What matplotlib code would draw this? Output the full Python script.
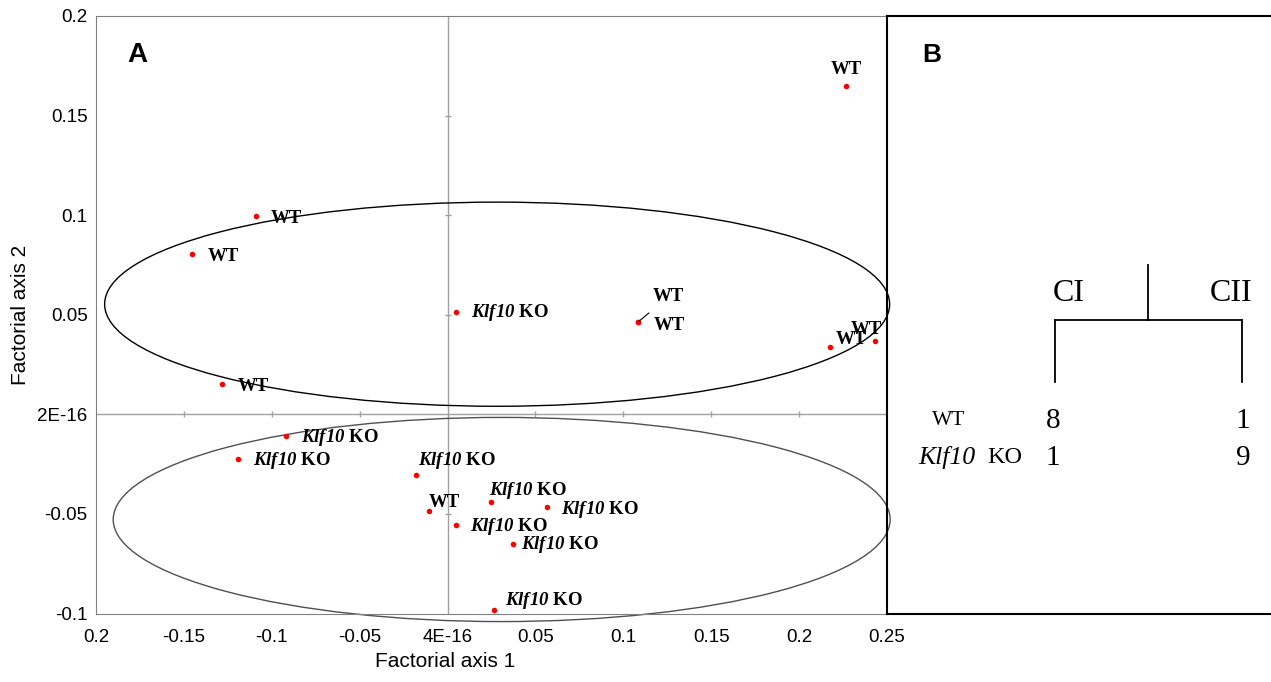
import matplotlib
matplotlib.use("Agg")
import matplotlib.pyplot as plt
from matplotlib.patches import Ellipse

plt.rcParams['mathtext.fontset'] = 'custom'
plt.rcParams['mathtext.bf'] = 'Liberation Serif:italic:bold'
plt.rcParams['mathtext.rm'] = 'Liberation Serif'

# factorial map (panel A)
group = ['WT', 'WT', 'WT', 'KO', 'WT', 'WT', 'WT', 'WT', 'WT',
         'KO', 'KO', 'KO', 'WT', 'KO', 'KO', 'KO', 'KO', 'KO']
axis1 = [0.2267, -0.1088, -0.1452, 0.0046, 0.1082, 0.1082, 0.2176, 0.2432, -0.1282,
         -0.0917, -0.1190, -0.0177, -0.0103, 0.0245, 0.0564, 0.0046, 0.0370, 0.0262]
axis2 = [0.1648, 0.0995, 0.0804, 0.0513, 0.0462, 0.0462, 0.0337, 0.0367, 0.0151,
         -0.0111, -0.0226, -0.0307, -0.0487, -0.0442, -0.0467, -0.0557, -0.0653, -0.0980]
# label offsets in pixels (dx, dy) and alignment
label_off = [(0, 17, 'center'), (14, -2, 'left'), (15, -2, 'left'), (15, 0, 'left'),
             (31, 26, 'center'), (16, -3, 'left'), (6, 8, 'left'), (-9, 12, 'center'),
             (16, -2, 'left'), (15, -1, 'left'), (15, -1, 'left'), (2, 15, 'left'),
             (-1, 9, 'left'), (-2, 12, 'left'), (14, -2, 'left'), (14, -1, 'left'),
             (8, 0, 'left'), (11, 9, 'left')]

ell_centers = [(0.0282, 0.0553), (0.0308, -0.0528)]
ell_sizes = [(0.4466, 0.1025), (0.4420, 0.1025)]

xticks = [-0.2, -0.15, -0.1, -0.05, 0.0, 0.05, 0.1, 0.15, 0.2, 0.25]
xticklabels = ['0.2', '-0.15', '-0.1', '-0.05', '4E-16', '0.05', '0.1', '0.15', '0.2', '0.25']
yticks = [-0.1, -0.05, 0.0, 0.05, 0.1, 0.15, 0.2]
yticklabels = ['-0.1', '-0.05', '2E-16', '0.05', '0.1', '0.15', '0.2']

# cross table (panel B)
clusters = ['CI', 'CII']
rows = ['WT', 'Klf10 KO']
counts = [[8, 1], [1, 9]]

fig = plt.figure(figsize=(12.71, 6.82), dpi=100)
ax = fig.add_axes([96/1271, 68.5/682, 791/1271, 597.5/682])
ax.set_xlim(-0.2, 0.25)
ax.set_ylim(-0.1, 0.2)

for s in ['left', 'top', 'bottom']:
    ax.spines[s].set_color('#808080')
ax.spines['right'].set_visible(False)

ax.axhline(0, color='#a0a0a0', lw=1, zorder=1)
ax.axvline(0, color='#a0a0a0', lw=1, zorder=1)
ax.plot([t for t in xticks[1:-1] if t != 0], [0]*7, ls='none', marker='|', ms=5, mew=1, color='#a0a0a0')
ax.plot([0]*4, [t for t in yticks[1:-1] if t != 0], ls='none', marker='_', ms=5, mew=1, color='#a0a0a0')

ax.set_xticks(xticks)
ax.set_xticklabels(xticklabels, family='Liberation Sans', fontsize=13.5)
ax.set_yticks(yticks)
ax.set_yticklabels(yticklabels, family='Liberation Sans', fontsize=13.5)
ax.tick_params(axis='x', length=0, pad=11)
ax.tick_params(axis='y', length=0, pad=6)

ax.set_xlabel('Factorial axis 1', family='Liberation Sans', fontsize=15)
ax.set_ylabel('Factorial axis 2', family='Liberation Sans', fontsize=15)
ax.xaxis.set_label_coords(0.442, -0.065)
ax.yaxis.set_label_coords(-0.084, 0.5)

ell_colors = ['black', '#505050']
for (cx, cy), (w, h), c in zip(ell_centers, ell_sizes, ell_colors):
    ax.add_patch(Ellipse((cx, cy), w, h, fill=False, ec=c, lw=1, clip_on=False, zorder=2))

ax.scatter(axis1, axis2, s=16, color='red', zorder=4, linewidths=0)

for i, (x, y) in enumerate(zip(axis1, axis2)):
    dx, dy, ha = label_off[i]
    txt = 'WT' if group[i] == 'WT' else '$\\mathbf{Klf10}$ KO'
    arrow = None
    if i == 4:
        arrow = dict(arrowstyle='-', color='black', lw=0.8, shrinkA=6, shrinkB=1)
    ax.annotate(txt, (x, y), xytext=(dx, dy), textcoords='offset pixels',
                ha=ha, va='center', family='Liberation Serif', fontweight='bold',
                fontsize=13.5, arrowprops=arrow, zorder=5)

ax.text(0.04, 0.935, 'A', transform=ax.transAxes, family='Liberation Sans',
        fontweight='bold', fontsize=20, ha='left', va='center')

# panel B
bx = fig.add_axes([887/1271, 68.5/682, 384/1271, 597.5/682])
bx.patch.set_visible(False)
bx.set_xlim(0, 1)
bx.set_ylim(0, 1)
bx.set_xticks([])
bx.set_yticks([])
for s in ['left', 'top', 'bottom']:
    bx.spines[s].set_color('black')
    bx.spines[s].set_linewidth(1.5)
bx.spines['right'].set_visible(False)

bx.text(0.092, 0.935, 'B', family='Liberation Sans', fontweight='bold', fontsize=19,
        ha='left', va='center')

# dendrogram
leaf_x = [0.4375, 0.9245]
bx.plot([0.680, 0.680], [0.491, 0.583], color='black', lw=1.3)
bx.plot(leaf_x, [0.491, 0.491], color='black', lw=1.3)
for lx in leaf_x:
    bx.plot([lx, lx], [0.387, 0.491], color='black', lw=1.3)

clus_x = [0.474, 0.896]
for cx, name in zip(clus_x, clusters):
    bx.text(cx, 0.535, name, family='Liberation Serif', fontsize=23, ha='center', va='center')

row_y = [0.323, 0.261]
col_x = [0.432, 0.927]
bx.text(0.117, row_y[0], rows[0], family='Liberation Serif', fontsize=15.5, ha='left', va='center')
gene, ko = rows[1].split(' ')
bx.text(0.081, row_y[1], gene, family='Liberation Serif', style='italic', fontsize=18.5,
        ha='left', va='center')
bx.text(0.262, row_y[1], ko, family='Liberation Serif', fontsize=17.5, ha='left', va='center')
for r, ry in enumerate(row_y):
    for c in range(2):
        bx.text(col_x[c], ry, str(counts[r][c]), family='Liberation Serif', fontsize=21,
                ha='center', va='center')

fig.savefig('out.png', dpi=100)
